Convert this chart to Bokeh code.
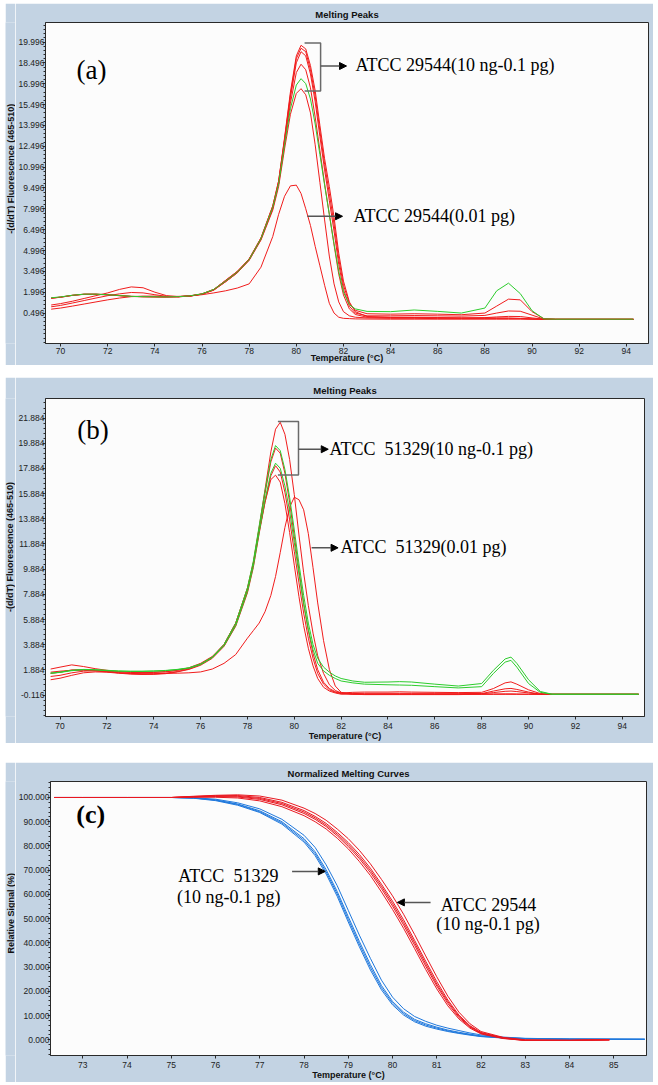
import math
from bokeh.plotting import figure
from bokeh.models import Range1d, FixedTicker, PrintfTickFormatter, Arrow, NormalHead, Spacer
from bokeh.layouts import column, row
from bokeh.core.properties import value
from bokeh.embed import file_html
from bokeh.resources import INLINE

# ---------------- DATA ----------------
# Panel (a): ATCC 29544 melting peaks, -(d/dT) fluorescence vs temperature
xa = [69.6, 70, 70.5, 71, 71.5, 72, 72.5, 73, 73.5, 74, 74.5, 75, 75.5, 76, 76.5,
      77, 77.5, 78, 78.5, 79, 79.25, 79.5, 79.75, 80, 80.2, 80.4, 80.6, 80.8, 81,
      81.2, 81.4, 81.6, 81.8, 82, 82.25, 82.5, 83, 84, 85, 86, 87, 88, 88.5, 89,
      89.5, 90, 90.5, 91, 94.3]
a_r1 = [1.58, 1.65, 1.78, 1.86, 1.86, 1.82, 1.76, 1.70, 1.68, 1.67, 1.66, 1.68, 1.74, 1.88, 2.20,
        2.85, 3.5, 4.4, 5.9, 8.2, 10.0, 13.1, 16.4, 19.0, 19.76, 19.5, 18.3, 16.5, 14.0,
        11.6, 9.6, 7.4, 4.8, 2.8, 1.3, 0.6, 0.25, 0.2, 0.2, 0.18, 0.15, 0.15, 0.15, 0.15,
        0.12, 0.08, 0.05, 0.04, 0.04]
a_r2 = [1.56, 1.64, 1.77, 1.85, 1.85, 1.81, 1.75, 1.70, 1.68, 1.67, 1.66, 1.68, 1.74, 1.88, 2.20,
        2.85, 3.5, 4.4, 5.9, 8.2, 10.0, 13.0, 16.2, 18.8, 19.55, 19.3, 18.0, 16.1, 13.6,
        11.2, 9.1, 6.9, 4.4, 2.5, 1.2, 0.7, 0.45, 0.42, 0.45, 0.42, 0.38, 0.5, 1.0, 1.5,
        1.45, 0.6, 0.1, 0.06, 0.06]
a_r3 = [1.08, 1.18, 1.35, 1.55, 1.75, 1.95, 2.20, 2.38, 2.32, 2.00, 1.75, 1.68, 1.72, 1.86, 2.15,
        2.8, 3.45, 4.35, 5.85, 8.1, 9.9, 12.9, 16.0, 18.5, 19.3, 19.0, 17.7, 15.7, 13.2,
        10.8, 8.6, 6.4, 4.0, 2.2, 1.0, 0.5, 0.3, 0.3, 0.32, 0.3, 0.28, 0.33, 0.5, 0.65,
        0.63, 0.35, 0.07, 0.05, 0.05]
a_r4 = [0.95, 1.05, 1.22, 1.40, 1.58, 1.75, 1.88, 1.98, 1.95, 1.82, 1.70, 1.67, 1.72, 1.86, 2.15,
        2.75, 3.4, 4.3, 5.8, 8.0, 9.8, 12.7, 15.6, 17.8, 18.4, 18.0, 16.7, 14.6, 12.2,
        9.8, 7.6, 5.4, 3.3, 1.8, 0.8, 0.4, 0.2, 0.18, 0.18, 0.16, 0.15, 0.17, 0.22, 0.26,
        0.25, 0.15, 0.06, 0.05, 0.05]
a_g1 = [1.60, 1.66, 1.78, 1.86, 1.86, 1.82, 1.76, 1.70, 1.68, 1.67, 1.66, 1.68, 1.74, 1.88, 2.20,
        2.8, 3.45, 4.35, 5.85, 8.1, 9.8, 12.6, 15.2, 16.9, 17.36, 17.0, 15.9, 14.1, 11.9,
        9.7, 7.6, 5.5, 3.5, 2.0, 1.1, 0.8, 0.62, 0.6, 0.72, 0.62, 0.5, 0.86, 2.1, 2.65,
        1.9, 0.67, 0.08, 0.06, 0.06]
a_r5 = [1.57, 1.64, 1.77, 1.85, 1.85, 1.81, 1.75, 1.69, 1.67, 1.66, 1.65, 1.67, 1.73, 1.86, 2.18,
        2.75, 3.4, 4.3, 5.75, 7.9, 9.6, 12.3, 14.8, 16.3, 16.64, 16.2, 14.9, 12.6, 9.9,
        7.2, 4.6, 2.6, 1.3, 0.6, 0.3, 0.2, 0.15, 0.12, 0.12, 0.1, 0.1, 0.1, 0.1, 0.1,
        0.1, 0.08, 0.05, 0.04, 0.04]
a_low = [0.78, 0.86, 1.00, 1.15, 1.30, 1.45, 1.58, 1.68, 1.72, 1.72, 1.70, 1.70, 1.74, 1.82, 1.95,
         2.1, 2.3, 2.6, 3.8, 6.0, 7.6, 8.9, 9.65, 9.7, 9.1, 8.0, 6.8, 5.3, 3.9,
         2.5, 1.2, 0.5, 0.2, 0.12, 0.1, 0.08, 0.07, 0.06, 0.06, 0.06, 0.06, 0.06, 0.06, 0.06,
         0.06, 0.05, 0.05, 0.04, 0.04]

# Panel (b): ATCC 51329 melting peaks
xb = [69.6, 70, 70.5, 71, 71.5, 72, 72.5, 73, 73.5, 74, 74.5, 75, 75.5, 76, 76.5,
      77, 77.5, 78, 78.25, 78.5, 78.75, 79, 79.2, 79.4, 79.6, 79.8, 80, 80.2, 80.4,
      80.6, 80.8, 81, 81.25, 81.5, 81.75, 82, 82.5, 83, 84, 84.5, 85, 86, 87, 88,
      88.5, 89, 89.25, 89.5, 90, 90.5, 91, 94.7]
b_r1 = [1.95, 2.10, 2.28, 2.15, 1.98, 1.85, 1.75, 1.70, 1.68, 1.70, 1.75, 1.85, 2.00, 2.35, 2.90,
        3.9, 5.6, 8.4, 10.4, 13.2, 16.2, 19.2, 21.0, 21.55, 20.6, 18.6, 15.8, 12.6, 9.6,
        7.0, 4.8, 3.0, 1.6, 0.7, 0.25, 0.05, -0.05, -0.08, -0.08, -0.08, -0.08, -0.08, -0.08, -0.05,
        -0.03, -0.02, -0.02, -0.03, -0.05, -0.06, -0.06, -0.06]
b_g1 = [1.62, 1.70, 1.85, 1.92, 1.90, 1.85, 1.80, 1.78, 1.78, 1.80, 1.84, 1.92, 2.05, 2.35, 2.90,
        3.9, 5.6, 8.4, 10.5, 13.3, 16.1, 18.6, 19.7, 19.3, 17.8, 15.6, 13.0, 10.3, 7.8,
        5.6, 3.9, 2.8, 2.1, 1.7, 1.4, 1.2, 1.0, 0.9, 0.92, 0.95, 0.92, 0.75, 0.6, 0.8,
        1.85, 2.75, 2.9, 2.4, 1.1, 0.17, -0.05, -0.05]
b_r2 = [1.36, 1.45, 1.65, 1.78, 1.82, 1.75, 1.65, 1.58, 1.55, 1.56, 1.62, 1.75, 1.95, 2.30, 2.85,
        3.8, 5.5, 8.2, 10.3, 13.1, 15.9, 18.4, 19.5, 19.1, 17.5, 15.2, 12.5, 9.8, 7.2,
        5.0, 3.2, 1.9, 0.9, 0.4, 0.15, 0.05, 0.1, 0.12, 0.12, 0.14, 0.12, 0.1, 0.08, 0.1,
        0.4, 0.85, 0.93, 0.75, 0.3, 0.0, -0.05, -0.05]
b_g2 = [1.62, 1.68, 1.82, 1.90, 1.88, 1.82, 1.78, 1.76, 1.76, 1.78, 1.82, 1.90, 2.02, 2.30, 2.85,
        3.8, 5.4, 8.1, 10.1, 12.8, 15.4, 17.5, 18.3, 17.9, 16.5, 14.5, 12.0, 9.5, 7.1,
        5.1, 3.5, 2.4, 1.8, 1.45, 1.2, 1.0, 0.85, 0.75, 0.7, 0.68, 0.66, 0.55, 0.45, 0.55,
        1.6, 2.5, 2.64, 2.1, 0.8, 0.1, -0.05, -0.05]
b_r3 = [1.10, 1.22, 1.45, 1.65, 1.72, 1.70, 1.62, 1.55, 1.52, 1.53, 1.58, 1.72, 1.92, 2.25, 2.80,
        3.75, 5.35, 8.0, 10.0, 12.7, 15.2, 17.3, 18.1, 17.6, 16.0, 13.8, 11.3, 8.8, 6.4,
        4.4, 2.8, 1.6, 0.75, 0.3, 0.1, 0.0, 0.0, 0.02, 0.02, 0.02, 0.02, 0.02, 0.02, 0.0,
        0.2, 0.38, 0.41, 0.33, 0.12, -0.05, -0.06, -0.06]
b_r4 = [1.60, 1.70, 1.88, 1.90, 1.85, 1.78, 1.72, 1.68, 1.66, 1.68, 1.72, 1.85, 2.05, 2.40, 2.95,
        3.9, 5.6, 8.3, 10.3, 12.9, 15.2, 17.0, 17.35, 16.8, 15.1, 12.8, 10.2, 7.7, 5.4,
        3.6, 2.2, 1.2, 0.5, 0.2, 0.05, -0.05, -0.05, -0.05, -0.04, -0.04, -0.04, -0.04, -0.04, -0.02,
        0.08, 0.18, 0.2, 0.16, 0.05, -0.05, -0.06, -0.06]
b_low = [1.70, 1.78, 1.85, 1.85, 1.80, 1.72, 1.65, 1.60, 1.58, 1.58, 1.60, 1.62, 1.65, 1.72, 1.95,
         2.4, 3.1, 4.4, 5.0, 5.6, 6.5, 7.8, 9.3, 11.2, 13.2, 14.8, 15.6, 15.4, 14.6,
         12.7, 10.0, 7.2, 4.2, 1.9, 0.6, 0.1, -0.05, -0.06, -0.06, -0.06, -0.06, -0.06, -0.06, -0.06,
         -0.06, -0.06, -0.06, -0.06, -0.06, -0.06, -0.06, -0.06]

# Panel (c): normalized melting curves, relative signal (%)
xc = [72.35, 73, 74, 75, 75.5, 76, 76.5, 77, 77.5, 78, 78.25, 78.5, 78.75, 79, 79.25,
      79.5, 79.75, 80, 80.25, 80.5, 80.75, 81, 81.25, 81.5, 81.75, 82, 82.5, 83, 84, 85.7]
xc_red = [72.35, 73, 74, 75, 75.5, 76, 76.5, 77, 77.5, 78, 78.25, 78.5, 78.75, 79, 79.25,
          79.5, 79.75, 80, 80.25, 80.5, 80.75, 81, 81.25, 81.5, 81.75, 82, 82.5, 83, 84, 84.9]
c_red1 = [100, 100, 100, 100, 100.5, 100.9, 101.1, 100.6, 98.9, 95.6, 93.4, 90.6, 87.0, 83.0, 78.2,
          72.6, 66.2, 59.4, 51.8, 43.4, 34.6, 26.0, 18.0, 11.4, 6.6, 3.4, 1.0, 0.0, -0.2, 0.0]
c_red2 = [100, 100, 100, 100, 100.4, 100.7, 100.8, 100.0, 98.0, 94.6, 92.2, 89.3, 85.6, 81.4, 76.5,
          70.8, 64.2, 57.2, 49.5, 41.0, 32.4, 24.0, 16.4, 10.2, 5.8, 3.0, 0.8, -0.2, -0.3, 0.0]
c_red3 = [100, 100, 100, 100, 100.2, 100.4, 100.2, 99.2, 97.0, 93.4, 91.0, 88.0, 84.2, 79.8, 74.8,
          69.0, 62.4, 55.2, 47.4, 39.0, 30.4, 22.2, 15.0, 9.2, 5.2, 2.6, 0.6, -0.3, -0.3, -0.1]
c_red4 = [100, 100, 100, 100, 100.1, 100.1, 99.8, 98.6, 96.2, 92.5, 90.0, 87.0, 83.2, 78.8, 73.6,
          67.8, 61.0, 53.8, 46.0, 37.6, 29.0, 21.0, 14.0, 8.6, 4.8, 2.4, 0.5, -0.3, -0.2, 0.0]
c_red5 = [100, 100, 100, 100, 100.3, 100.6, 100.5, 99.6, 97.5, 94.0, 91.6, 88.6, 84.9, 80.6, 75.6,
          69.9, 63.3, 56.2, 48.4, 40.0, 31.4, 23.0, 15.7, 9.7, 5.5, 2.8, 0.7, -0.2, -0.3, 0.0]
c_blue1 = [100, 100, 100, 100, 99.9, 99.3, 97.8, 95.3, 91.0, 84.4, 79.4, 72.2, 63.6, 53.4, 43.2,
           33.6, 24.6, 17.6, 12.8, 9.6, 7.6, 6.0, 4.8, 3.8, 2.8, 2.0, 1.1, 0.6, 0.3, 0.2]
c_blue2 = [100, 100, 100, 100, 99.8, 99.0, 97.3, 94.5, 90.0, 83.0, 77.6, 70.2, 61.2, 50.8, 40.6,
           31.0, 22.4, 15.8, 11.4, 8.4, 6.6, 5.2, 4.0, 3.1, 2.3, 1.6, 0.9, 0.5, 0.3, 0.2]
c_blue3 = [100, 100, 100, 100, 99.7, 98.7, 96.8, 93.8, 89.0, 81.6, 76.0, 68.4, 59.2, 48.6, 38.4,
           28.8, 20.6, 14.4, 10.2, 7.4, 5.6, 4.4, 3.4, 2.6, 1.9, 1.3, 0.7, 0.4, 0.2, 0.2]
c_blue4 = [100, 100, 100, 100, 99.8, 98.9, 97.1, 94.1, 89.5, 82.3, 76.8, 69.3, 60.2, 49.7, 39.5,
           29.9, 21.5, 15.1, 10.8, 7.9, 6.1, 4.8, 3.7, 2.8, 2.1, 1.4, 0.8, 0.45, 0.25, 0.2]

# Tick values
xticks_ab = [70, 72, 74, 76, 78, 80, 82, 84, 86, 88, 90, 92, 94]
xticks_c = [73, 74, 75, 76, 77, 78, 79, 80, 81, 82, 83, 84, 85]
yticks_a = [0.496, 1.996, 3.496, 4.996, 6.496, 7.996, 9.496, 10.996, 12.496, 13.996,
            15.496, 16.996, 18.496, 19.996]
yticks_b = [-0.116, 1.884, 3.884, 5.884, 7.884, 9.884, 11.884, 13.884, 15.884, 17.884,
            19.884, 21.884]
yticks_c = [0, 10, 20, 30, 40, 50, 60, 70, 80, 90, 100]

# ---------------- STYLE ----------------
BOX = "#c3d3e3"
PLOTBG = "#fcfcfc"
RED = "#f01c1c"
GREEN = "#2ccc2c"
BLUE = "#1f78dc"
CRED = "#e81820"
SANS = "Liberation Sans"
SERIF = "Liberation Serif"
NB = "\u00a0"
W = 648
SW = 10  # width of the strip carrying the y-axis title


def side_label(h, txt, cx, cy):
    """Narrow strip left of a panel carrying the rotated y-axis title."""
    s = figure(width=SW, height=h, x_range=Range1d(0, SW), y_range=Range1d(0, h),
               output_backend="svg", toolbar_location=None, title=None,
               x_axis_type=None, y_axis_type=None, min_border=0)
    s.border_fill_color = BOX
    s.background_fill_color = BOX
    s.outline_line_color = None
    s.grid.visible = False
    s.text(x=[cx], y=[cy], text=[txt], angle=math.pi / 2, text_font=value(SANS),
           text_font_size="9px", text_font_style="bold", text_color="#111111",
           text_align="center", text_baseline="middle")
    return s


def make_fig(h, xr, yr, yt, ymin_step, xt, mb, title, toff, tstand, xstand):
    p = figure(width=W - SW, height=h, x_range=Range1d(*xr), y_range=Range1d(*yr),
               output_backend="svg", toolbar_location=None,
               min_border_left=mb[0], min_border_right=mb[1],
               min_border_top=mb[2], min_border_bottom=mb[3])
    p.border_fill_color = BOX
    p.background_fill_color = PLOTBG
    p.outline_line_color = "#2a2a2a"
    p.outline_line_width = 1
    p.grid.visible = False
    p.title.text = title
    p.title.align = "center"
    p.title.offset = toff
    p.title.standoff = tstand
    p.title.text_line_height = 0.9
    p.title.text_font = SANS
    p.title.text_font_size = "9.5px"
    p.title.text_font_style = "bold"
    p.title.text_color = "#111111"
    minor = []
    v = yt[0] - 10 * ymin_step
    while v < yt[-1] + 10 * ymin_step:
        minor.append(round(v, 4))
        v += ymin_step
    p.yaxis.ticker = FixedTicker(ticks=yt, minor_ticks=minor)
    p.yaxis.formatter = PrintfTickFormatter(format="%.3f")
    p.xaxis.ticker = FixedTicker(ticks=xt)
    p.xaxis.axis_label = "Temperature (\u00b0C)"
    for ax in (p.xaxis[0], p.yaxis[0]):
        ax.axis_line_color = "#2a2a2a"
        ax.major_tick_line_color = "#2a2a2a"
        ax.minor_tick_line_color = "#2a2a2a"
        ax.major_tick_out = 3
        ax.major_tick_in = 0
        ax.minor_tick_out = 2
        ax.minor_tick_in = 0
        ax.major_label_text_font = SANS
        ax.major_label_text_font_size = "8.5px"
        ax.major_label_text_color = "#222222"
    p.yaxis[0].major_label_standoff = -2
    xa_ = p.xaxis[0]
    xa_.major_label_standoff = xstand[0]
    xa_.axis_label_standoff = xstand[1]
    xa_.axis_label_text_font = SANS
    xa_.axis_label_text_font_size = "9px"
    xa_.axis_label_text_font_style = "bold"
    xa_.axis_label_text_color = "#111111"
    xa_.axis_label_text_line_height = 0.9
    return p


def arrow(p, x0, x1, y):
    p.add_layout(Arrow(end=NormalHead(size=7, fill_color="black", line_color="black"),
                       x_start=x0, y_start=y, x_end=x1, y_end=y,
                       line_color="#555555", line_width=1.5))


def label(p, x, y, txt, size="18px", align="left", style="normal"):
    p.text(x=[x], y=[y], text=[txt], text_font=value(SERIF), text_font_size=size,
           text_align=align, text_baseline="middle", text_color="black",
           text_font_style=style)


# ---------------- PANEL (a) ----------------
sa = side_label(362, "-(d/dT) Fluorescence (465-510)", 5, 197)
pa = make_fig(362, (69.36, 94.94), (-1.69, 21.4), yticks_a, 0.3, xticks_ab,
              (30, 5, 19, 22), "Melting Peaks", -13, 6, (1, -4))
for ys, c in [(a_r5, RED), (a_r4, RED), (a_r3, RED), (a_low, RED), (a_r2, RED),
              (a_r1, RED), (a_g1, GREEN)]:
    pa.line(xa, ys, line_color=c, line_width=1)
pa.line([80.35, 81.03, 81.03, 80.35], [19.92, 19.92, 16.47, 16.47],
        line_color="#6a6a6a", line_width=1.5)
arrow(pa, 81.03, 82.13, 18.27)
label(pa, 82.51, 18.32, "ATCC 29544(10 ng-0.1 pg)")
arrow(pa, 80.47, 81.96, 7.46)
label(pa, 82.43, 7.51, "ATCC 29544(0.01 pg)")
label(pa, 71.31, 17.96, "(a)", size="27px", align="center")

# ---------------- PANEL (b) ----------------
sb = side_label(366, "-(d/dT) Fluorescence (465-510)", 4.5, 195)
pb = make_fig(366, (69.38, 94.95), (-1.82, 23.44), yticks_b, 0.4, xticks_ab,
              (27, 9, 21, 25), "Melting Peaks", -16, 6, (3, -1))
for ys, c in [(b_low, RED), (b_r4, RED), (b_r3, RED), (b_r2, RED), (b_r1, RED),
              (b_g2, GREEN), (b_g1, GREEN)]:
    pb.line(xb, ys, line_color=c, line_width=1)
pb.line([79.30, 80.18, 80.18, 79.30], [21.62, 21.62, 17.36, 17.36],
        line_color="#6a6a6a", line_width=1.5)
arrow(pb, 80.18, 81.45, 19.41)
label(pb, 81.5, 19.41, "ATCC " + NB + "51329(10 ng-0.1 pg)")
arrow(pb, 80.74, 81.87, 11.58)
label(pb, 81.97, 11.61, "ATCC " + NB + "51329(0.01 pg)")
label(pb, 71.41, 20.9, "(b)", size="27px", align="center")

# ---------------- PANEL (c) ----------------
sc = side_label(320, "Relative Signal (%)", 5, 166)
pc = make_fig(320, (72.27, 85.74), (-6.5, 106.6), yticks_c, 2.0, xticks_c,
              (35, 7, 16, 26), "Normalized Melting Curves", -20, 6, (3, -1))
for ys in [c_blue1, c_blue2, c_blue3, c_blue4]:
    pc.line(xc, ys, line_color=BLUE, line_width=1)
for ys in [c_red1, c_red2, c_red3, c_red4, c_red5]:
    pc.line(xc_red, ys, line_color=CRED, line_width=1)
label(pc, 76.29, 67.56, "ATCC " + NB + "51329", align="center")
label(pc, 76.30, 59.0, "(10 ng-0.1 pg)", align="center")
arrow(pc, 77.73, 78.48, 69.5)
label(pc, 82.17, 55.76, "ATCC 29544", align="center")
label(pc, 82.16, 47.6, "(10 ng-0.1 pg)", align="center")
arrow(pc, 80.86, 80.11, 56.7)
label(pc, 73.18, 92.8, "(c)", size="26px", align="center", style="bold")

layout = column(row(sa, pa), Spacer(height=12), row(sb, pb), Spacer(height=19), row(sc, pc))
layout.margin = (3, 0, 0, 5)
open("out.html", "w").write(file_html(layout, INLINE))
